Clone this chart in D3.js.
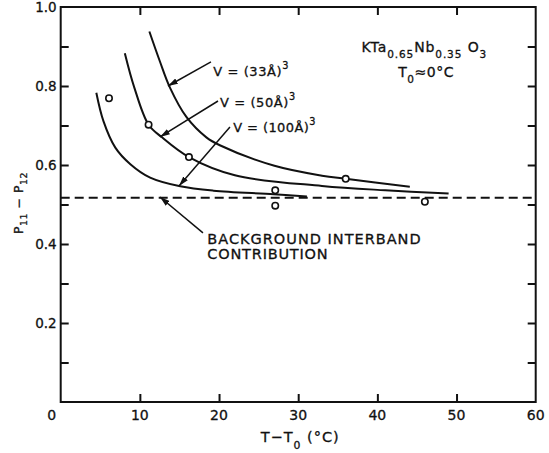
<!DOCTYPE html>
<html><head><meta charset="utf-8">
<script src="https://cdn.jsdelivr.net/npm/d3@7"></script>
<style>
body{margin:0;background:#fff}
svg{display:block}
text{font-family:"DejaVu Sans",sans-serif;fill:#111;stroke:#111;stroke-width:0.3px}
</style>
</head><body>
<svg id="chart" width="549" height="453"></svg>
<script>
// ---- data ----
const xTickValues = [0, 10, 20, 30, 40, 50, 60];
const xTickLabels = ["0", "10", "20", "30", "40", "50", "60"];
const xInnerTicks = [10, 20, 30, 40, 50];
const yTickValues = [0.2, 0.4, 0.6, 0.8, 1.0];
const yTickLabels = ["0.2", "0.4", "0.6", "0.8", "1.0"];
const yInnerTicks = [0.1, 0.2, 0.3, 0.4, 0.5, 0.6, 0.7, 0.8, 0.9];

// V = (33 Å)^3
const curve33X = [11.2, 12.5, 13.8, 15.9, 18.4, 20.1, 27.0, 33.0, 36.0, 44.1];
const curve33Y = [0.938, 0.864, 0.796, 0.721, 0.670, 0.650, 0.598, 0.573, 0.565, 0.545];
// V = (50 Å)^3
const curve50X = [8.1, 9.3, 11.1, 12.8, 16.2, 22.0, 33.0, 41.0, 49.0];
const curve50Y = [0.883, 0.796, 0.702, 0.670, 0.620, 0.574, 0.547, 0.536, 0.528];
// V = (100 Å)^3
const curve100X = [4.5, 5.4, 6.9, 8.8, 11.3, 15.1, 19.3, 26.9, 31.1];
const curve100Y = [0.783, 0.711, 0.644, 0.602, 0.568, 0.546, 0.535, 0.526, 0.520];

// measured points
const pointsX = [6.1, 11.1, 16.2, 27.1, 27.1, 36.0, 46.0];
const pointsY = [0.769, 0.702, 0.620, 0.536, 0.497, 0.565, 0.507];

// background interband contribution
const backgroundLevel = 0.517;
const backgroundX = [0, 60];

// annotation anchors (data units)
const arrowFrom = [[18.98, 0.861], [19.87, 0.762], [21.38, 0.696], [17.97, 0.428]];
const arrowTo   = [[13.55, 0.800], [12.54, 0.671], [14.94, 0.547], [12.54, 0.519]];

// ---- layout ----
const W = 549, H = 453;
const margin = {left: 60.7, right: 13.3, top: 7, bottom: 51};
const svg = d3.select("#chart");
const x = d3.scaleLinear().domain([0, 60]).range([margin.left, W - margin.right]);
const y = d3.scaleLinear().domain([0, 1]).range([H - margin.bottom, margin.top]);
const ink = "#111";

// frame
svg.append("rect")
  .attr("x", x(0)).attr("y", y(1))
  .attr("width", x(60) - x(0)).attr("height", y(0) - y(1))
  .attr("fill", "none").attr("stroke", ink).attr("stroke-width", 2);

// inward ticks via axes
const tickLen = 8;
svg.append("g").attr("transform", `translate(0,${y(0)})`)
  .call(d3.axisTop(x).tickValues(xInnerTicks).tickSize(tickLen).tickFormat(""))
  .call(g => g.select(".domain").remove());
svg.append("g").attr("transform", `translate(0,${y(1)})`)
  .call(d3.axisBottom(x).tickValues(xInnerTicks).tickSize(tickLen).tickFormat(""))
  .call(g => g.select(".domain").remove());
svg.append("g").attr("transform", `translate(${x(0)},0)`)
  .call(d3.axisRight(y).tickValues(yInnerTicks).tickSize(tickLen).tickFormat(""))
  .call(g => g.select(".domain").remove());
svg.append("g").attr("transform", `translate(${x(60)},0)`)
  .call(d3.axisLeft(y).tickValues(yInnerTicks).tickSize(tickLen).tickFormat(""))
  .call(g => g.select(".domain").remove());
svg.selectAll(".tick line").attr("stroke", ink).attr("stroke-width", 2);

// tick labels
svg.append("g").selectAll("text").data(xTickValues).join("text")
  .attr("x", (d, i) => x(d) + (i === 0 ? -9 : 0))
  .attr("y", y(0) + 17.5)
  .attr("text-anchor", "middle")
  .attr("font-size", 14)
  .text((d, i) => xTickLabels[i]);
svg.append("g").selectAll("text").data(yTickValues).join("text")
  .attr("x", x(0) - 4)
  .attr("y", d => y(d) + 5)
  .attr("text-anchor", "end")
  .attr("font-size", 13.5)
  .text((d, i) => yTickLabels[i]);

// rich text helper: parts = [[text, mode, offset]] mode 0 normal, 1 sup, -1 sub
function rich(parent, px, py, parts, size, ls, anchor) {
  const t = parent.append("text").attr("x", px).attr("y", py)
    .attr("font-size", size).attr("letter-spacing", ls)
    .attr("text-anchor", anchor || "start");
  let cur = 0;
  parts.forEach(([s, m, off]) => {
    const target = m === 1 ? -(off || 6) : m === -1 ? (off || 7) : 0;
    t.append("tspan").attr("dy", target - cur)
      .attr("font-size", m === 0 ? size : size * 0.75)
      .text(s);
    cur = target;
  });
  return t;
}

// axis titles
rich(svg, (x(0) + x(60)) / 2 + 2, H - 11.5, [["T−T", 0], ["0", -1, 7], [" (°C)", 0]], 14.5, 1, "middle");
const yt = svg.append("g").attr("transform", `translate(22.7,${203}) rotate(-90)`);
rich(yt, 0, 0, [["P", 0], ["11", -1, 4], [" − P", 0], ["12", -1, 4]], 12.5, 0.5, "middle");

// background dashed line
svg.append("line")
  .attr("x1", x(backgroundX[0])).attr("x2", x(backgroundX[1]))
  .attr("y1", y(backgroundLevel)).attr("y2", y(backgroundLevel))
  .attr("stroke", ink).attr("stroke-width", 2).attr("stroke-dasharray", "9,5");

// curves
const line = d3.line().x(d => x(d[0])).y(d => y(d[1])).curve(d3.curveCatmullRom.alpha(0.5));
[[curve33X, curve33Y], [curve50X, curve50Y], [curve100X, curve100Y]].forEach(([xs, ys]) => {
  svg.append("path").datum(xs.map((v, i) => [v, ys[i]]))
    .attr("d", line).attr("fill", "none").attr("stroke", ink).attr("stroke-width", 2);
});

// points
svg.append("g").selectAll("circle").data(pointsX.map((v, i) => [v, pointsY[i]])).join("circle")
  .attr("cx", d => x(d[0])).attr("cy", d => y(d[1])).attr("r", 3.2)
  .attr("fill", "#fff").attr("stroke", ink).attr("stroke-width", 1.6);

// arrows
svg.append("defs").append("marker").attr("id", "ah")
  .attr("viewBox", "0 0 10 6").attr("refX", 10).attr("refY", 3)
  .attr("markerWidth", 10).attr("markerHeight", 6).attr("markerUnits", "userSpaceOnUse")
  .attr("orient", "auto")
  .append("path").attr("d", "M0,0 L10,3 L0,6 Z").attr("fill", ink);
arrowFrom.forEach((f, i) => {
  const t = arrowTo[i];
  svg.append("line")
    .attr("x1", x(f[0])).attr("y1", y(f[1]))
    .attr("x2", x(t[0])).attr("y2", y(t[1]))
    .attr("stroke", ink).attr("stroke-width", 1.5).attr("marker-end", "url(#ah)");
});

// annotation labels
rich(svg, x(19.27), y(0.826), [["V = (33Å)", 0], ["3", 1, 7]], 13, 0.6);
rich(svg, x(20.12), y(0.748), [["V = (50Å)", 0], ["3", 1, 7]], 13, 0.6);
rich(svg, x(21.8), y(0.684), [["V = (100Å)", 0], ["3", 1, 7]], 13, 0.4);
rich(svg, x(38.0), y(0.885), [["KTa", 0], ["0.65", -1, 6], ["Nb", 0], ["0.35", -1, 6], [" O", 0], ["3", -1, 6]], 14, 0.9);
rich(svg, x(42.64), y(0.822), [["T", 0], ["0", -1, 6], ["≈0°C", 0]], 14, 0.5);
rich(svg, x(18.52), y(0.400), [["BACKGROUND INTERBAND", 0]], 14.5, 1);
rich(svg, x(18.52), y(0.361), [["CONTRIBUTION", 0]], 14.5, 0.8);
</script>
</body></html>
